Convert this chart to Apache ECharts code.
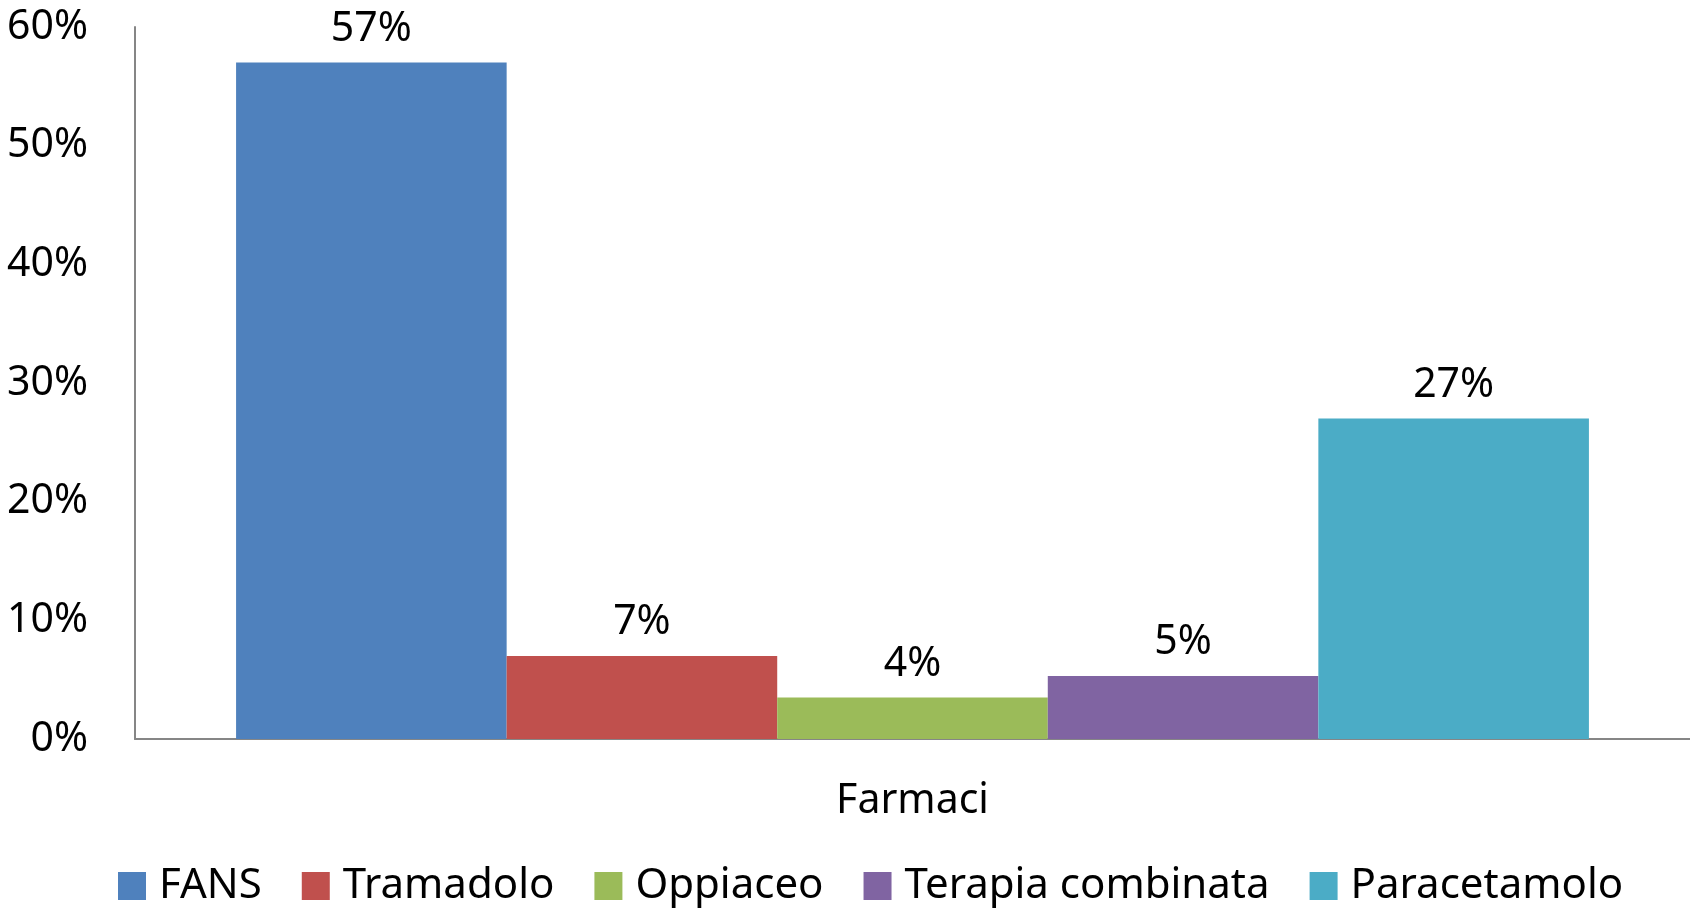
<!DOCTYPE html>
<html>
<head>
<meta charset="utf-8">
<style>
html,body{margin:0;padding:0;background:#fff;}
#chart{width:1690px;height:909px;}
</style>
<script src="https://cdn.jsdelivr.net/npm/echarts@6/dist/echarts.min.js"></script>
</head>
<body>
<div id="chart"></div>
<script>
const categories = ['Farmaci'];
const seriesNames = ['FANS', 'Tramadolo', 'Oppiaceo', 'Terapia combinata', 'Paracetamolo'];
const seriesValues = [57, 7, 3.5, 5.3, 27];
const seriesColors = ['#4F81BD', '#C0504D', '#9BBB59', '#8064A2', '#4BACC6'];
const yTicks = { min: 0, max: 60, interval: 10 };

const FONT = 'Noto Sans';
const chart = echarts.init(document.getElementById('chart'));

const series = seriesNames.map((name, i) => ({
  name: name,
  type: 'bar',
  data: [seriesValues[i]],
  itemStyle: { color: seriesColors[i] },
  barGap: '0%',
  barCategoryGap: '13%',
  label: {
    show: true,
    position: 'top',
    distance: 13,
    color: '#000',
    fontFamily: FONT,
    fontSize: 41,
    formatter: p => Math.round(p.value) + '%'
  }
}));

chart.setOption({
  animation: false,
  backgroundColor: '#fff',
  textStyle: { fontFamily: FONT },
  grid: { left: 135, right: 0, top: 27, bottom: 170, containLabel: false },
  legend: {
    data: seriesNames,
    left: 118,
    top: 865,
    padding: 0,
    itemWidth: 28,
    itemHeight: 28,
    itemGap: 40,
    icon: 'rect',
    textStyle: { fontFamily: FONT, fontSize: 42, color: '#000', padding: [0, 0, 0, 8] }
  },
  xAxis: {
    type: 'category',
    data: categories,
    axisLine: { lineStyle: { color: '#868686', width: 2 } },
    axisTick: { show: false },
    axisLabel: { color: '#000', fontFamily: FONT, fontSize: 41, margin: 42 }
  },
  yAxis: {
    type: 'value',
    min: yTicks.min,
    max: yTicks.max,
    interval: yTicks.interval,
    axisLine: { show: true, lineStyle: { color: '#868686', width: 2 } },
    axisTick: { show: false },
    splitLine: { show: false },
    axisLabel: { color: '#000', fontFamily: FONT, fontSize: 41, margin: 47, padding: [5, 0, 0, 0], formatter: v => v + '%' }
  },
  series: series
});
</script>
</body>
</html>
